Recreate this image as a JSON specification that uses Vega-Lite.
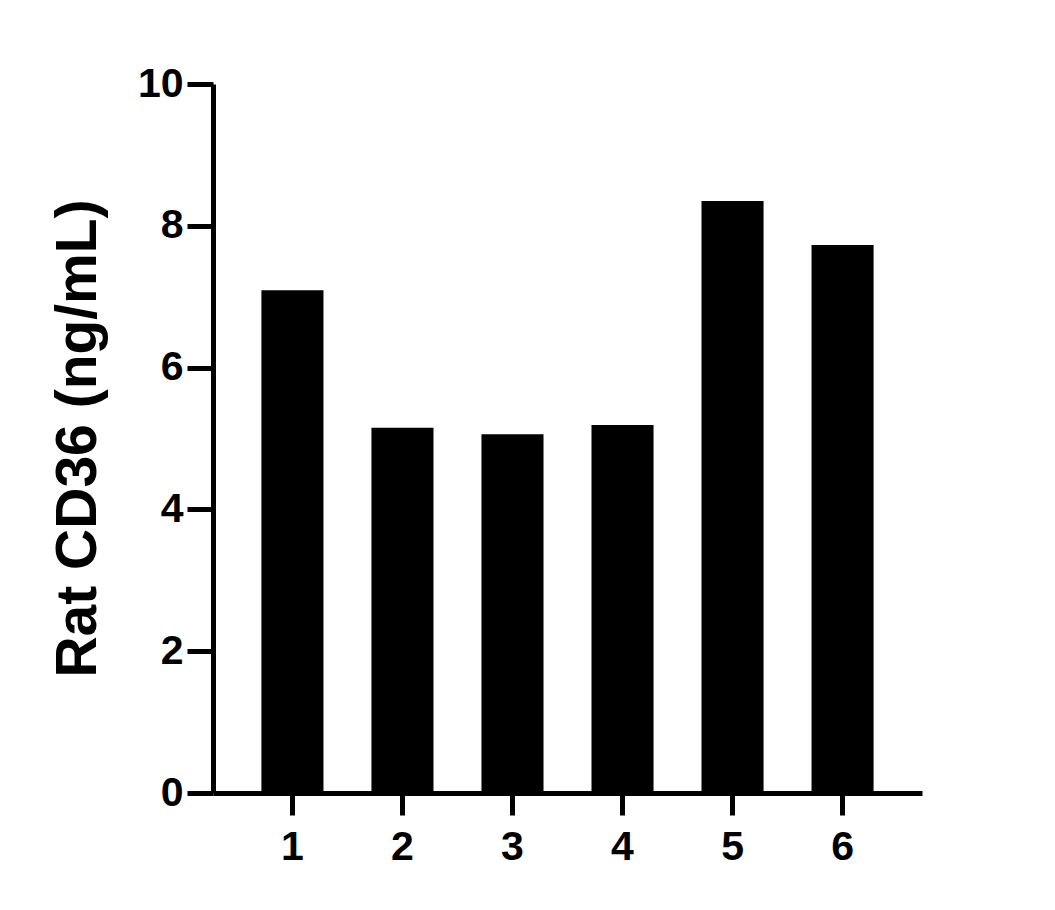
{
  "$schema": "https://vega.github.io/schema/vega-lite/v6.json",
  "width": 709,
  "height": 709,
  "autosize": "none",
  "padding": {"left": 213, "top": 84, "right": 133, "bottom": 117},
  "background": "white",
  "config": {
    "view": {"stroke": null},
    "font": "Liberation Sans",
    "axis": {
      "grid": false,
      "domainColor": "black",
      "domainWidth": 5,
      "tickColor": "black",
      "tickWidth": 5,
      "labelColor": "black",
      "labelFont": "Liberation Sans",
      "labelFontWeight": "bold",
      "labelFontSize": 41,
      "titleColor": "black",
      "titleFont": "Liberation Sans",
      "titleFontWeight": "bold"
    }
  },
  "data": {
    "values": [
      {"sample": "1", "value": 7.09},
      {"sample": "2", "value": 5.15},
      {"sample": "3", "value": 5.06},
      {"sample": "4", "value": 5.19},
      {"sample": "5", "value": 8.35},
      {"sample": "6", "value": 7.73}
    ]
  },
  "mark": {"type": "bar", "color": "black"},
  "encoding": {
    "x": {
      "field": "sample",
      "type": "ordinal",
      "sort": null,
      "scale": {"paddingInner": 0.436, "paddingOuter": 0.44},
      "axis": {
        "title": null,
        "labelAngle": 0,
        "tickSize": 22,
        "labelPadding": 12
      }
    },
    "y": {
      "field": "value",
      "type": "quantitative",
      "scale": {"domain": [0, 10], "nice": false},
      "axis": {
        "title": "Rat CD36 (ng/mL)",
        "titleFontSize": 57,
        "values": [0, 2, 4, 6, 8, 10],
        "tickSize": 26,
        "labelPadding": 4,
        "titleX": -118,
        "titleY": 354,
        "titleAngle": -90,
        "titleAlign": "center",
        "titleBaseline": "alphabetic"
      }
    }
  }
}
